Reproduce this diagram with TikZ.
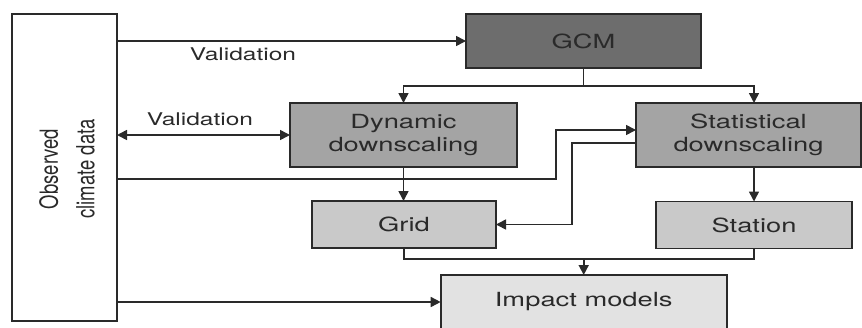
\documentclass[tikz,border=0pt]{standalone}
\usepackage{fontspec}
\setmainfont{TeX Gyre Heros}
\newfontfamily\widefont{TeX Gyre Heros}[FakeStretch=1.4]
\newfontfamily\plainfont{TeX Gyre Heros}
\usetikzlibrary{arrows.meta}
\definecolor{ink}{HTML}{2A2A2A}
\definecolor{gcmfill}{HTML}{6D6D6D}
\definecolor{midfill}{HTML}{A4A4A4}
\definecolor{lightfill}{HTML}{C9C9C9}
\definecolor{palefill}{HTML}{E2E2E2}
\tikzset{
  boxnode/.style={draw=ink, line width=1.6pt, inner sep=0pt, outer sep=0pt,
    text=ink, align=center, font=\widefont\fontsize{19.5}{23}\selectfont},
  lbl/.style={text=ink, inner sep=0pt, font=\widefont\fontsize{17.5}{23}\selectfont},
  conn/.style={draw=ink, line width=1.6pt},
  arr/.style={conn, -{Triangle[length=10pt,width=10pt]}},
  darr/.style={conn, {Triangle[length=10pt,width=10pt]}-{Triangle[length=10pt,width=10pt]}}
}
\begin{document}
\begin{tikzpicture}[x=1pt,y=-1pt]
\useasboundingbox (0,0) rectangle (862,327);
\begin{scope}
\clip (0,0) rectangle (862,327);
\node[boxnode, fill=white, minimum width=105pt, minimum height=307pt] (obs) at (64.5,167.5) {};
\begin{scope}[shift={(67,169)}, xscale=1.35, rotate=90]
\node[transform shape, text=ink, inner sep=0pt, align=center, font=\plainfont\fontsize{18.5}{27}\selectfont] (obstext) at (0,0)
  {Observed\\climate data};
\end{scope}
\node[boxnode, fill=gcmfill, minimum width=235pt, minimum height=54pt] (gcm) at (583.5,41) {GCM};
\node[boxnode, fill=midfill, minimum width=227pt, minimum height=64pt] (dyn) at (403.5,135) {Dynamic\\downscaling};
\node[boxnode, fill=midfill, minimum width=225pt, minimum height=64pt] (stat) at (748.5,135) {Statistical\\downscaling};
\node[boxnode, fill=lightfill, minimum width=184pt, minimum height=47pt] (grid) at (404,224.5) {Grid};
\node[boxnode, fill=lightfill, minimum width=196pt, minimum height=47pt] (station) at (754,225) {Station};
\node[boxnode, fill=palefill, minimum width=286pt, minimum height=54pt] (impact) at (583.7,302) {Impact models};

\node[lbl] (val1) at (243,54) {Validation};
\node[lbl] (val2) at (200,119) {Validation};

\coordinate (gsplit) at (583.5,86);
\coordinate (c1) at (556,179);
\coordinate (c2) at (572,224.5);
\coordinate (merge) at (583.7,259);

\draw[arr] (obs.east |- gcm.west) -- (gcm.west);
\draw[darr] (obs.east |- dyn.west) -- (dyn.west);
\draw[conn] (gcm.south) -- (gsplit);
\draw[arr] (gsplit) -| (dyn.north);
\draw[arr] (gsplit) -| (stat.north -| station.north);
\draw[arr] (obs.east |- c1) -- (c1) |- ([yshift=5pt]stat.west);
\draw[arr] ([yshift=-8pt]stat.west) -| (c2) -- (grid.east);
\draw[arr] (dyn.south) -- (dyn.south |- grid.north);
\draw[arr] (stat.south -| station.north) -- (station.north);
\draw[conn] (grid.south) |- (merge) -| (station.south);
\draw[arr] (merge) -- (impact.north);
\draw[arr] (obs.east |- impact.west) -- (impact.west);
\end{scope}
\end{tikzpicture}
\end{document}
